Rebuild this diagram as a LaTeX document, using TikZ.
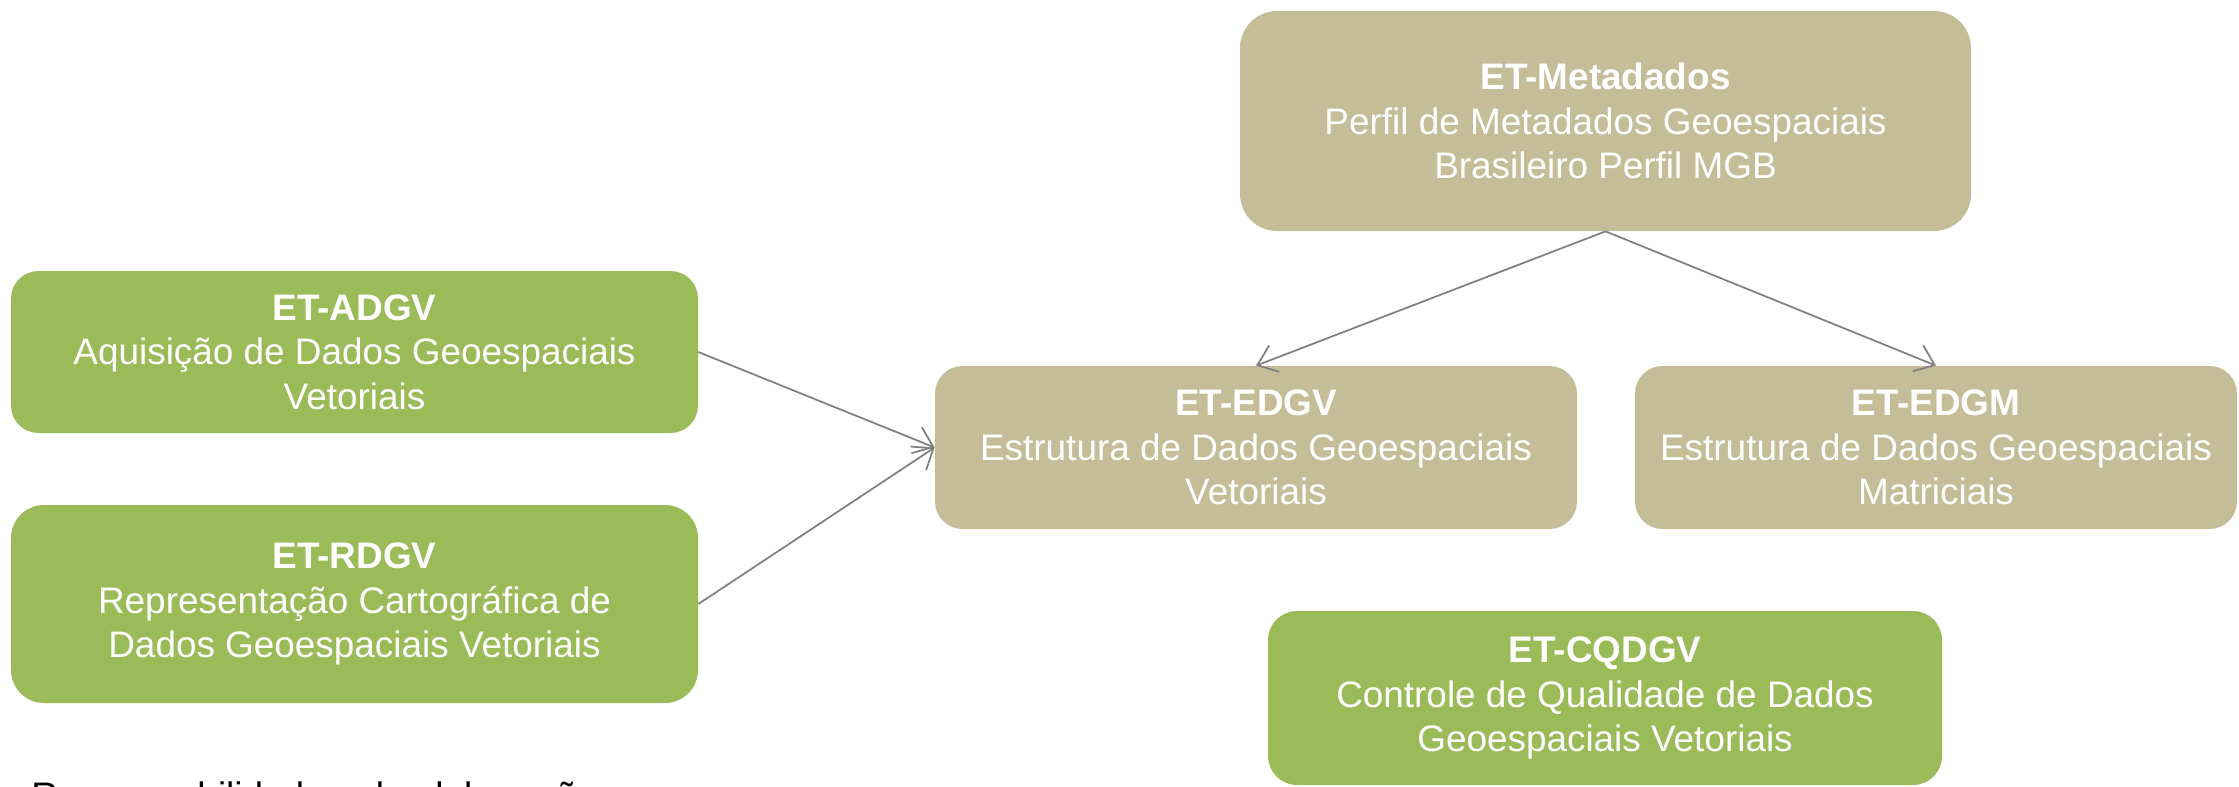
\documentclass[tikz,border=0pt]{standalone}
\usepackage{fontspec}
\setmainfont{Liberation Sans}
\usetikzlibrary{arrows.meta}
\definecolor{etgreen}{HTML}{9BBB59}
\definecolor{ettan}{HTML}{C4BD97}
\definecolor{etgray}{HTML}{808080}
\begin{document}
\begin{tikzpicture}

      \clip (0,0) rectangle (44.78,-15.72);

      \begin{scope}[every node/.style={rounded corners=0.55cm,text=white,align=center,
          inner sep=0pt,font=\fontsize{21}{25.2}\selectfont}]
        \node[fill=etgreen,minimum width=13.74cm,minimum height=3.24cm] (adgv) at (7.09,-7.04)
          {\textbf{ET-ADGV}\\Aquisição de Dados Geoespaciais\\Vetoriais};
        \node[fill=etgreen,minimum width=13.74cm,minimum height=3.96cm,rounded corners=0.66cm] (rdgv) at (7.09,-12.08)
          {\textbf{ET-RDGV}\\Representação Cartográfica de\\Dados Geoespaciais Vetoriais};
        \node[fill=ettan,minimum width=14.62cm,minimum height=4.4cm,rounded corners=0.74cm] (meta) at (32.11,-2.42)
          {\textbf{ET-Metadados}\\Perfil de Metadados Geoespaciais\\Brasileiro Perfil MGB};
        \node[fill=ettan,minimum width=12.84cm,minimum height=3.26cm] (edgv) at (25.12,-8.95)
          {\textbf{ET-EDGV}\\Estrutura de Dados Geoespaciais\\Vetoriais};
        \node[fill=ettan,minimum width=12.04cm,minimum height=3.26cm] (edgm) at (38.72,-8.95)
          {\textbf{ET-EDGM}\\Estrutura de Dados Geoespaciais\\Matriciais};
        \node[fill=etgreen,minimum width=13.48cm,minimum height=3.48cm,rounded corners=0.58cm] (cqdgv) at (32.1,-13.96)
          {\textbf{ET-CQDGV}\\Controle de Qualidade de Dados\\Geoespaciais Vetoriais};
      \end{scope}

      \node[anchor=base west,inner sep=0pt,font=\fontsize{21}{25.2}\selectfont] (resp) at (0.62,-16.16)
        {Responsabilidade pela elaboração};

      \begin{scope}[every edge/.style={draw=etgray,line width=1pt,
          -{Straight Barb[length=0.36cm,width=0.56cm,line width=1pt]}}]
        \path (adgv.east)  edge (edgv.west);
        \path (rdgv.east)  edge (edgv.west);
        \path (meta.south) edge (edgv.north);
        \path (meta.south) edge (edgm.north);
      \end{scope}

    \end{tikzpicture}
\end{document}
